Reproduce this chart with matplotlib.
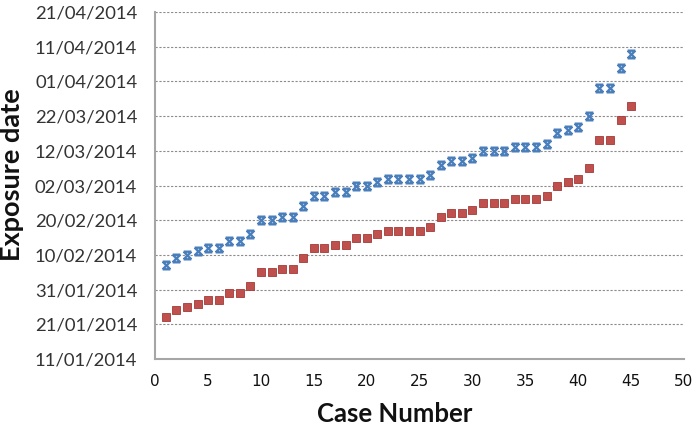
import matplotlib
matplotlib.use("Agg")
import matplotlib.pyplot as plt
import matplotlib.dates as mdates
from matplotlib.path import Path
import datetime as dt

# day offsets from 11/01/2014
start = dt.date(2014, 1, 11)
case_number = list(range(1, 46))
latest_days = [27, 29, 30, 31, 32, 32, 34, 34, 36, 40, 40, 41, 41, 44, 47,
               47, 48, 48, 50, 50, 51, 52, 52, 52, 52, 53, 56, 57, 57, 58,
               60, 60, 60, 61, 61, 61, 62, 65, 66, 67, 70, 78, 78, 84, 88]
earliest_days = [12, 14, 15, 16, 17, 17, 19, 19, 21, 25, 25, 26, 26, 29, 32,
                 32, 33, 33, 35, 35, 36, 37, 37, 37, 37, 38, 41, 42, 42, 43,
                 45, 45, 45, 46, 46, 46, 47, 50, 51, 52, 55, 63, 63, 69, 73]

latest = [start + dt.timedelta(days=d) for d in latest_days]
earliest = [start + dt.timedelta(days=d) for d in earliest_days]

# Excel-style "x" marker: a cross capped with short bars top and bottom
M, L = Path.MOVETO, Path.LINETO
xbar = Path([(-1, 1), (1, -1), (-1, -1), (1, 1), (-1, 1), (1, 1), (-1, -1), (1, -1)],
            [M, L, M, L, M, L, M, L])

fig = plt.figure(figsize=(6.93, 4.28), dpi=100)
ax = fig.add_axes([0.224, 0.161, 0.763, 0.811])

ax.plot(case_number, latest, linestyle="none", marker=xbar, markersize=5.5,
        markerfacecolor="none", markeredgecolor="#4a7ebb", markeredgewidth=1.7,
        zorder=3)
ax.plot(case_number, earliest, linestyle="none", marker="s", markersize=6.2,
        markerfacecolor="#c0504d", markeredgecolor="#a23b38", markeredgewidth=0.6,
        zorder=3)

ax.set_xlim(0, 50)
ax.set_xticks(range(0, 51, 5))
ax.set_ylim(mdates.date2num(start), mdates.date2num(start + dt.timedelta(days=100)))
yt = [start + dt.timedelta(days=10 * i) for i in range(11)]
ax.set_yticks(mdates.date2num(yt))
ax.yaxis.set_major_formatter(mdates.DateFormatter("%d/%m/%Y"))

ax.grid(axis="y", linestyle=(0, (2, 1.5)), color="#8c8c8c", linewidth=0.8)
ax.set_axisbelow(True)
for s in ["top", "right"]:
    ax.spines[s].set_visible(False)
for s in ["left", "bottom"]:
    ax.spines[s].set_color("#a6a6a6")
    ax.spines[s].set_linewidth(1.5)
ax.tick_params(axis="y", length=0, pad=13, colors="#333333")
ax.tick_params(axis="x", length=0, pad=11, colors="#111111")
for lab in ax.get_yticklabels():
    lab.set_fontfamily("Lato")
    lab.set_fontsize(13.3)
for lab in ax.get_xticklabels():
    lab.set_fontfamily("Liberation Sans Narrow")
    lab.set_fontsize(11)

# Excel centres the titles on the chart area, so place them by hand
ax.set_xlabel("Case Number", fontsize=18.5, fontweight="bold", family="Lato",
              color="#111111")
ax.xaxis.set_label_coords(0.452, -0.125)
ax.set_ylabel("Exposure date", fontsize=19.5, fontweight="bold", family="Lato",
              color="#111111")
ax.yaxis.set_label_coords(-0.248, 0.53)

fig.savefig("out.png", dpi=100)
